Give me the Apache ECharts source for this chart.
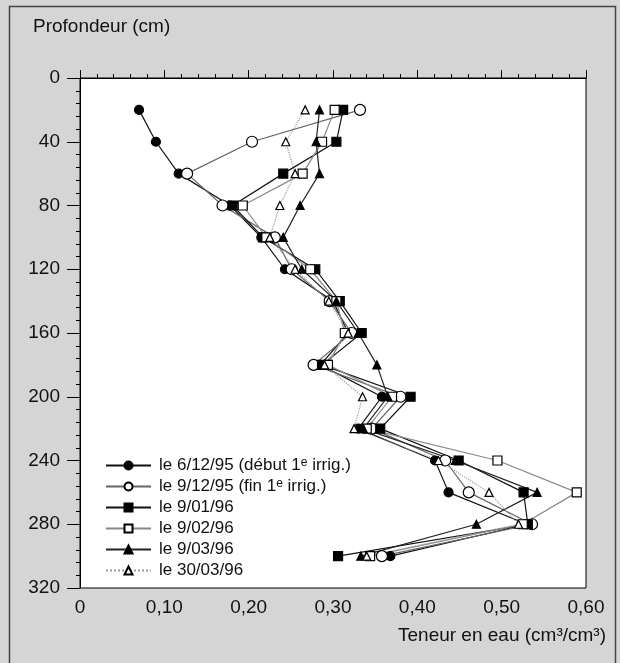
<!DOCTYPE html>
<html>
<head>
<meta charset="utf-8">
<script src="https://cdn.jsdelivr.net/npm/echarts@6/dist/echarts.min.js"></script>
<style>
html,body{margin:0;padding:0;background:#d5d5d5;}
#chart{width:620px;height:663px;}
</style>
</head>
<body>
<div id="chart"></div>
<script>
// profondeurs (cm)
var depths = [20, 40, 60, 80, 100, 120, 140, 160, 180, 200, 220, 240, 260, 280, 300];

// teneur en eau (cm3/cm3) par date
var s_061295 = [0.070, 0.090, 0.117, 0.178, 0.215, 0.243, 0.300, 0.318, 0.285, 0.358, 0.330, 0.421, 0.437, 0.530, 0.368];
var s_091295 = [0.332, 0.204, 0.127, 0.169, 0.231, 0.251, 0.296, 0.322, 0.277, 0.380, 0.346, 0.433, 0.461, 0.536, 0.358];
var s_090196 = [0.312, 0.304, 0.241, 0.181, 0.217, 0.279, 0.308, 0.334, 0.287, 0.392, 0.356, 0.449, 0.526, 0.531, 0.306];
var s_090296 = [0.302, 0.287, 0.264, 0.193, 0.221, 0.273, 0.304, 0.314, 0.294, 0.370, 0.340, 0.495, 0.589, 0.525, 0.344];
var s_090396 = [0.284, 0.280, 0.284, 0.261, 0.241, 0.263, 0.304, 0.330, 0.352, 0.365, 0.336, 0.445, 0.542, 0.470, 0.333];
var s_300396 = [0.267, 0.244, 0.255, 0.237, 0.225, 0.255, 0.295, 0.318, 0.290, 0.335, 0.325, 0.425, 0.485, 0.520, 0.340];

var seriesNames = ['le 6/12/95 (début 1e irrig.)', 'le 9/12/95 (fin 1e irrig.)', 'le 9/01/96', 'le 9/02/96', 'le 9/03/96', 'le 30/03/96'];
var xTicks = [0, 0.1, 0.2, 0.3, 0.4, 0.5, 0.6];
var yTicks = [0, 40, 80, 120, 160, 200, 240, 280, 320];

var FONT = 'Liberation Sans, Arial, sans-serif';

function pairs(vals){
	var out = [];
	for(var i = 0;i < vals.length;i++){
		out.push([vals[i], depths[i]]);
	}
	return out;
}

function mkSeries(name, vals, symbol, size, filled, lineColor, lineType){
	return {
		name: name,
		type: 'line',
		data: pairs(vals),
		symbol: symbol,
		symbolSize: size,
		showSymbol: true,
		animation: false,
		lineStyle: {color: lineColor, width: 1.2, type: lineType},
		itemStyle: {color: filled ? '#000' : '#fff', borderColor: '#000', borderWidth: 1.2}
	};
}

var chart = echarts.init(document.getElementById('chart'));
var option = {
	backgroundColor: '#d5d5d5',
	animation: false,
	grid: {
		left: 80, top: 78, right: 34, bottom: 75,
		show: true, backgroundColor: '#fff', borderColor: '#000', borderWidth: 1
	},
	legend: {
		orient: 'vertical',
		left: 100, top: 452,
		itemWidth: 45, itemHeight: 10, itemGap: 4,
		data: seriesNames,
		formatter: function(name){
			if(name.indexOf('1e') >= 0){
				var parts = name.split('1e');
				return '{a|' + parts[0] + '1}{s|e}{a|' + parts[1] + '}';
			}
			return '{a|' + name + '}';
		},
		textStyle: {
			color: '#111', fontFamily: FONT, fontSize: 17, padding: [0, 0, 0, 3],
			rich: {
				a: {fontFamily: FONT, fontSize: 17, color: '#111', lineHeight: 17, verticalAlign: 'bottom'},
				s: {fontFamily: FONT, fontSize: 12, color: '#111', lineHeight: 17, verticalAlign: 'top'}
			}
		}
	},
	xAxis: {
		type: 'value', min: 0, max: 0.6, interval: 0.1,
		axisLine: {lineStyle: {color: '#000', width: 1}},
		axisTick: {inside: true, length: 8, lineStyle: {color: '#000'}},
		minorTick: {show: true, splitNumber: 5, length: 4, lineStyle: {color: '#000'}},
		splitLine: {show: false},
		axisLabel: {
			color: '#111', fontFamily: FONT, fontSize: 19, margin: 10,
			formatter: function(v){
				return v === 0 ? '0' : v.toFixed(2).replace('.', ',');
			}
		}
	},
	yAxis: {
		type: 'value', min: 0, max: 320, interval: 40, inverse: true,
		axisLine: {lineStyle: {color: '#000', width: 1}},
		axisTick: {inside: false, length: 13, lineStyle: {color: '#000'}},
		minorTick: {show: true, splitNumber: 5, length: 4, lineStyle: {color: '#000'}},
		splitLine: {show: false},
		axisLabel: {color: '#111', fontFamily: FONT, fontSize: 19, margin: 20}
	},
	graphic: [
		{type: 'rect', left: 7, top: 4, shape: {width: 606, height: 680}, silent: true,
		 style: {fill: 'none', stroke: '#444', lineWidth: 1.5}},
		{type: 'text', left: 33, top: 17,
		 style: {text: 'Profondeur (cm)', font: '19px ' + FONT, fill: '#111'}},
		{type: 'text', right: 14, top: 626,
		 style: {text: 'Teneur en eau (cm³/cm³)', font: '19px ' + FONT, fill: '#111'}}
	],
	series: [
		mkSeries(seriesNames[0], s_061295, 'circle', 9, true, '#111', 'solid'),
		mkSeries(seriesNames[1], s_091295, 'circle', 11, false, '#666', 'solid'),
		mkSeries(seriesNames[2], s_090196, 'rect', 9, true, '#111', 'solid'),
		mkSeries(seriesNames[3], s_090296, 'rect', 9, false, '#888', 'solid'),
		mkSeries(seriesNames[4], s_090396, 'triangle', 8, true, '#222', 'solid'),
		mkSeries(seriesNames[5], s_300396, 'triangle', 8, false, '#999', 'dotted')
	]
};
chart.setOption(option);
</script>
</body>
</html>
